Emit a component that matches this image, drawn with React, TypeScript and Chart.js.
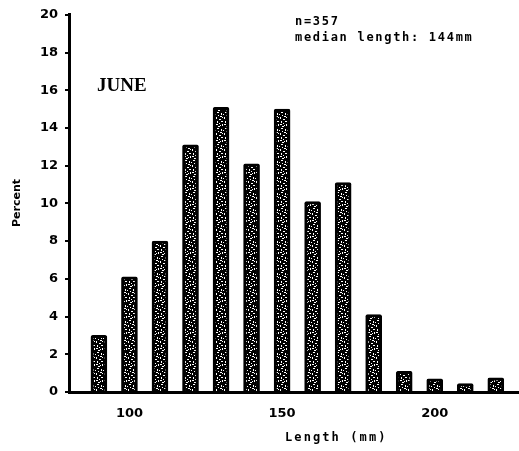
import React, { useEffect, useRef } from 'react';
import { Chart, registerables } from 'chart.js';

Chart.register(...registerables);

const LENGTHS = [90, 100, 110, 120, 130, 140, 150, 160, 170, 180, 190, 200, 210, 220];
const PERCENT = [3, 6.1, 8, 13.1, 15.1, 12.1, 15, 10.1, 11.1, 4.1, 1.1, 0.7, 0.45, 0.75];
const X_TICKS = [100, 150, 200];
const Y_MIN = 0;
const Y_MAX = 20;
const Y_STEP = 2;
const SAMPLE_TEXT = 'n=357';
const MEDIAN_TEXT = 'median length: 144mm';
const MONTH_TEXT = 'JUNE';
const X_TITLE = 'Length (mm)';
const Y_TITLE = 'Percent';

const SPECKS: [number, number, number, number][] = [
  [1, 0, 2, 1], [5, 1, 1, 2], [2, 3, 1, 1], [4, 4, 2, 1], [0, 5, 1, 2],
  [6, 5, 1, 1], [3, 7, 2, 1], [1, 9, 1, 2], [5, 9, 2, 1], [3, 11, 1, 1],
  [7, 2, 1, 1], [0, 12, 2, 1], [6, 12, 1, 2], [2, 14, 2, 1], [4, 13, 1, 1],
];

function makePattern(ctx: CanvasRenderingContext2D): CanvasPattern | string {
  const c = document.createElement('canvas');
  c.width = 8;
  c.height = 16;
  const p = c.getContext('2d');
  if (!p) return '#444';
  p.fillStyle = '#000';
  p.fillRect(0, 0, 8, 16);
  p.fillStyle = '#fff';
  SPECKS.forEach(([x, y, w, h]) => p.fillRect(x, y, w, h));
  return ctx.createPattern(c, 'repeat') || '#444';
}

const textPlugin = {
  id: 'texts',
  afterDraw(chart: any) {
    const ctx: CanvasRenderingContext2D = chart.ctx;
    ctx.save();
    ctx.fillStyle = '#000';
    ctx.font = 'bold 19px "Liberation Serif"';
    ctx.textAlign = 'left';
    ctx.textBaseline = 'middle';
    (ctx as any).letterSpacing = '0px';
    ctx.fillText(MONTH_TEXT, 97, 86);
    ctx.font = 'bold 12px "DejaVu Sans Mono"';
    (ctx as any).letterSpacing = '1.7px';
    ctx.fillText(SAMPLE_TEXT, 295, 22);
    ctx.fillText(MEDIAN_TEXT, 295, 38);
    (ctx as any).letterSpacing = '2.1px';
    ctx.fillText(X_TITLE, 285, 438);
    (ctx as any).letterSpacing = '0px';
    ctx.font = 'bold 11px "DejaVu Sans"';
    ctx.translate(17, 203);
    ctx.rotate(-Math.PI / 2);
    ctx.textAlign = 'center';
    ctx.fillText(Y_TITLE, 0, 0);
    ctx.restore();
  },
};

export default function App() {
  const ref = useRef<HTMLCanvasElement | null>(null);

  useEffect(() => {
    document.body.style.margin = '0';
    const canvas = ref.current;
    if (!canvas) return;
    const ctx = canvas.getContext('2d');
    if (!ctx) return;
    const pattern = makePattern(ctx);
    const chart = new Chart(ctx, {
      type: 'bar',
      data: {
        datasets: [
          {
            data: LENGTHS.map((x, i) => ({ x, y: PERCENT[i] })),
            backgroundColor: pattern as any,
            borderColor: '#000',
            borderWidth: 3,
            borderRadius: 2,
            borderSkipped: 'start',
            barThickness: 16,
          },
        ],
      },
      options: {
        animation: false,
        responsive: false,
        devicePixelRatio: 1,
        layout: { padding: { top: 13, right: 0, left: 0, bottom: 0 } },
        plugins: {
          legend: { display: false },
          tooltip: { enabled: false },
        },
        scales: {
          x: {
            type: 'linear',
            min: 80.2,
            max: 227.6,
            offset: false,
            afterBuildTicks: (s: any) => {
              s.ticks = X_TICKS.map((v) => ({ value: v }));
            },
            afterFit: (s: any) => {
              s.height = 59;
            },
            ticks: {
              color: '#000',
              font: { family: 'DejaVu Sans', weight: 'bold', size: 13 },
              padding: 6,
              maxRotation: 0,
            },
            grid: { display: false },
            border: { display: true, color: '#000', width: 3 },
          },
          y: {
            min: Y_MIN,
            max: Y_MAX,
            afterFit: (s: any) => {
              s.width = 69;
            },
            ticks: {
              stepSize: Y_STEP,
              color: '#000',
              font: { family: 'DejaVu Sans', weight: 'bold', size: 13 },
              padding: 7,
            },
            grid: {
              display: true,
              drawOnChartArea: false,
              tickLength: 4,
              color: '#000',
              lineWidth: 2,
            },
            border: { display: true, color: '#000', width: 3 },
          },
        },
      },
      plugins: [textPlugin],
    });
    return () => chart.destroy();
  }, []);

  return (
    <div style={{ position: 'absolute', left: 0, top: 0, width: 519, height: 451, background: '#fff' }}>
      <canvas ref={ref} width={519} height={451} />
    </div>
  );
}
